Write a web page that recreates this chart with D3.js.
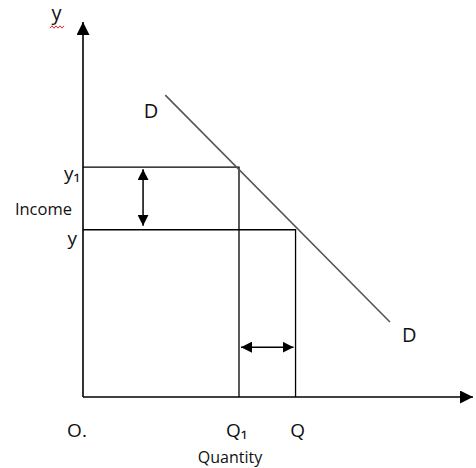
<!DOCTYPE html>
<html>
<head>
<meta charset="utf-8">
<script src="https://cdn.jsdelivr.net/npm/d3@7"></script>
<style>
  body { margin: 0; background: #fff; }
  text { font-family: "Open Sans", sans-serif; fill: #111; }
</style>
</head>
<body>
<svg width="476" height="468"></svg>
<script>
    // values (0-100 abstract units on both axes)
    const quantityLevels = [40, 54.5];        // Q1, Q
    const quantityLabels = ["Q\u2081", "Q"];
    const incomeLevels = [61.3, 44.6];        // y1, y
    const incomeLabels = ["y\u2081", "y"];
    const demandCurve = [{ q: 21.1, y: 80.5 }, { q: 78.7, y: 20 }];
    const axisTitles = { x: "Quantity", y: "Income", yTop: "y", origin: "O." };

    const svg = d3.select("svg");

    const x = d3.scaleLinear().domain([0, 100]).range([83, 473]);
    const y = d3.scaleLinear().domain([0, 100]).range([397, 22]);

    const defs = svg.append("defs");
    defs.append("marker")
      .attr("id", "head")
      .attr("viewBox", "0 0 10 10")
      .attr("refX", 10).attr("refY", 5)
      .attr("markerWidth", 13).attr("markerHeight", 13)
      .attr("markerUnits", "userSpaceOnUse")
      .attr("orient", "auto-start-reverse")
      .append("path")
      .attr("d", "M0,0 L10,5 L0,10 Z")
      .attr("fill", "#000");

    defs.append("marker")
      .attr("id", "small")
      .attr("viewBox", "0 0 10 10")
      .attr("refX", 10).attr("refY", 5)
      .attr("markerWidth", 11).attr("markerHeight", 11)
      .attr("markerUnits", "userSpaceOnUse")
      .attr("orient", "auto-start-reverse")
      .append("path")
      .attr("d", "M0,0 L10,5 L0,10 Z")
      .attr("fill", "#000");

    // axes
    svg.append("line")
      .attr("x1", x(0)).attr("y1", y(0))
      .attr("x2", x(0)).attr("y2", y(100))
      .attr("stroke", "#000").attr("stroke-width", 1.6)
      .attr("marker-end", "url(#head)");

    svg.append("line")
      .attr("x1", x(0)).attr("y1", y(0))
      .attr("x2", x(100)).attr("y2", y(0))
      .attr("stroke", "#000").attr("stroke-width", 1.6)
      .attr("marker-end", "url(#head)");

    // rectangles (income / quantity guides)
    quantityLevels.forEach((q, i) => {
      const inc = incomeLevels[i];
      svg.append("path")
        .attr("d", `M${x(0)},${y(inc)} H${x(q)} V${y(0)}`)
        .attr("fill", "none")
        .attr("stroke", "#000")
        .attr("stroke-width", 1.3);
    });

    // demand curve
    svg.append("line")
      .attr("x1", x(demandCurve[0].q)).attr("y1", y(demandCurve[0].y))
      .attr("x2", x(demandCurve[1].q)).attr("y2", y(demandCurve[1].y))
      .attr("stroke", "#555").attr("stroke-width", 1.6);

    // change arrows
    svg.append("line")
      .attr("x1", x(15.4)).attr("y1", y(incomeLevels[0]) + 2)
      .attr("x2", x(15.4)).attr("y2", y(incomeLevels[1]) - 4)
      .attr("stroke", "#000").attr("stroke-width", 1.5)
      .attr("marker-start", "url(#small)")
      .attr("marker-end", "url(#small)");

    svg.append("line")
      .attr("x1", x(quantityLevels[0]) + 2).attr("y1", y(13.3))
      .attr("x2", x(quantityLevels[1]) - 2).attr("y2", y(13.3))
      .attr("stroke", "#000").attr("stroke-width", 1.5)
      .attr("marker-start", "url(#small)")
      .attr("marker-end", "url(#small)");

    // labels
    svg.append("text")
      .attr("x", x(demandCurve[0].q) - 7).attr("y", y(demandCurve[0].y) + 23)
      .attr("text-anchor", "end")
      .attr("font-size", 20)
      .text("D");

    svg.append("text")
      .attr("x", x(demandCurve[1].q) + 12).attr("y", y(demandCurve[1].y) + 20)
      .attr("font-size", 20)
      .text("D");

    svg.selectAll(".ylab")
      .data(incomeLabels)
      .enter()
      .append("text")
      .attr("x", (d, i) => x(0) - (i === 0 ? 3 : 6))
      .attr("y", (d, i) => y(incomeLevels[i]) + (i === 0 ? 13 : 15))
      .attr("text-anchor", "end")
      .attr("font-size", 19)
      .text(d => d);

    svg.selectAll(".xlab")
      .data(quantityLabels)
      .enter()
      .append("text")
      .attr("x", (d, i) => i === 0 ? x(quantityLevels[i]) - 13 : x(quantityLevels[i]) + 2)
      .attr("y", y(0) + 40)
      .attr("text-anchor", (d, i) => i === 0 ? "start" : "middle")
      .attr("font-size", 19)
      .text(d => d);

    svg.append("text")
      .attr("x", x(0) - 6).attr("y", y(0) + 40)
      .attr("text-anchor", "middle")
      .attr("font-size", 19)
      .text(axisTitles.origin);

    svg.append("text")
      .attr("x", x(0) - 11).attr("y", 215)
      .attr("text-anchor", "end")
      .attr("font-size", 16.5)
      .text(axisTitles.y);

    svg.append("text")
      .attr("x", x(quantityLevels[0]) - 9).attr("y", y(0) + 66)
      .attr("text-anchor", "middle")
      .attr("font-size", 16)
      .text(axisTitles.x);

    svg.append("text")
      .attr("x", 56.5).attr("y", 20)
      .attr("text-anchor", "middle")
      .attr("font-size", 20)
      .text(axisTitles.yTop);

    // spell-check squiggle under the top "y"
    const squiggle = d3.range(0, 8).map(i => [50 + i * 2, 27 + (i % 2 ? -1.2 : 1.2)]);
    svg.append("path")
      .attr("d", d3.line()(squiggle))
      .attr("fill", "none")
      .attr("stroke", "#e03030")
      .attr("stroke-width", 1);
</script>
</body>
</html>
